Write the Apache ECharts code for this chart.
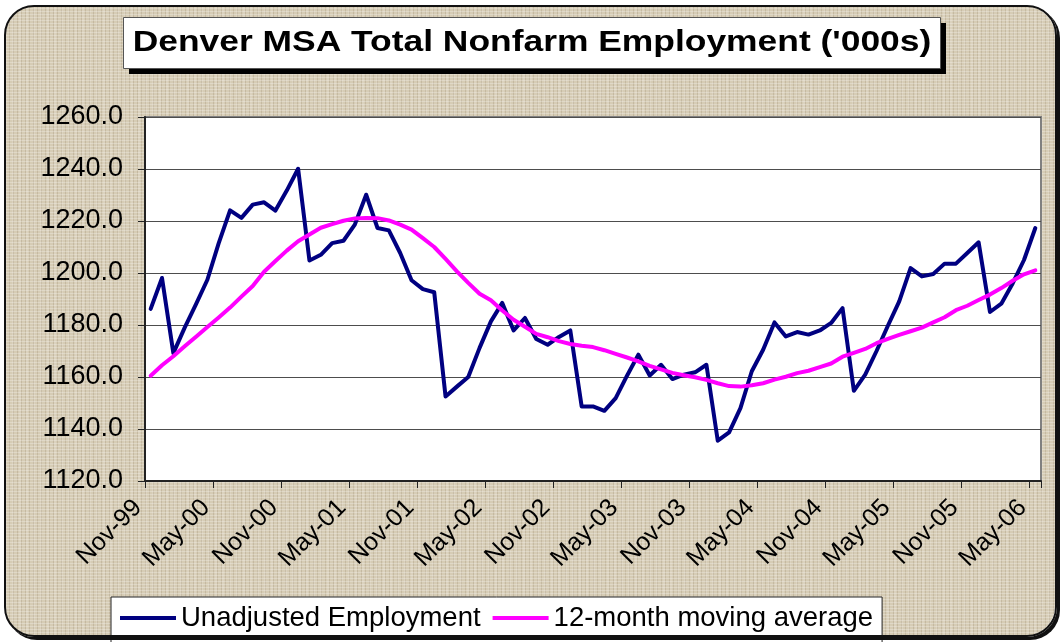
<!DOCTYPE html>
<html>
<head>
<meta charset="utf-8">
<script src="https://cdn.jsdelivr.net/npm/echarts@6/dist/echarts.min.js"></script>
<style>
  html, body { margin: 0; padding: 0; background: #fff; }
  #wrap { position: relative; width: 1061px; height: 642px; overflow: hidden; }
  /* linen-like backdrop behind the chart */
  #paper {
    position: absolute; left: 5px; top: 6px; width: 1050px; height: 630px;
    border-radius: 30px;
    background-color: #d6ccb5;
    background-image:
      repeating-linear-gradient(0deg, rgba(255,255,255,0.25) 0 1px, transparent 1px 3px),
      repeating-linear-gradient(90deg, rgba(120,100,70,0.18) 0 1px, transparent 1px 4px),
      repeating-linear-gradient(90deg, rgba(255,255,255,0.12) 0 2px, transparent 2px 7px);
  }
  #chart { position: absolute; left: 0; top: 0; width: 1061px; height: 642px; }
  /* frame drawn above the chart so it clips the legend box like the original */
  #frame {
    position: absolute; left: 4px; top: 5px; width: 1049px; height: 628px;
    border: 2px solid #111; border-radius: 30px;
    box-shadow: 3px 3px 0 #111;
    pointer-events: none;
  }
</style>
</head>
<body>
<div id="wrap">
  <div id="paper"></div>
  <div id="chart"></div>
  <div id="frame"></div>
</div>
<script>
// Monthly slots, Nov-99 .. May-06
const months = [
  'Nov-99', 'Dec-99',
  'Jan-00', 'Feb-00', 'Mar-00', 'Apr-00', 'May-00', 'Jun-00', 'Jul-00', 'Aug-00', 'Sep-00', 'Oct-00', 'Nov-00', 'Dec-00',
  'Jan-01', 'Feb-01', 'Mar-01', 'Apr-01', 'May-01', 'Jun-01', 'Jul-01', 'Aug-01', 'Sep-01', 'Oct-01', 'Nov-01', 'Dec-01',
  'Jan-02', 'Feb-02', 'Mar-02', 'Apr-02', 'May-02', 'Jun-02', 'Jul-02', 'Aug-02', 'Sep-02', 'Oct-02', 'Nov-02', 'Dec-02',
  'Jan-03', 'Feb-03', 'Mar-03', 'Apr-03', 'May-03', 'Jun-03', 'Jul-03', 'Aug-03', 'Sep-03', 'Oct-03', 'Nov-03', 'Dec-03',
  'Jan-04', 'Feb-04', 'Mar-04', 'Apr-04', 'May-04', 'Jun-04', 'Jul-04', 'Aug-04', 'Sep-04', 'Oct-04', 'Nov-04', 'Dec-04',
  'Jan-05', 'Feb-05', 'Mar-05', 'Apr-05', 'May-05', 'Jun-05', 'Jul-05', 'Aug-05', 'Sep-05', 'Oct-05', 'Nov-05', 'Dec-05',
  'Jan-06', 'Feb-06', 'Mar-06', 'Apr-06', 'May-06'
]

const unadjusted = [
  1186.2, 1198.1, 1169.2, 1179.0, 1188.0, 1197.4, 1211.5, 1224.1, 1221.2, 1226.3,
  1227.2, 1224.0, 1231.7, 1240.1, 1204.8, 1207.0, 1211.5, 1212.4, 1218.6, 1230.1,
  1217.3, 1216.4, 1207.7, 1197.2, 1193.8, 1192.6, 1152.5, 1156.3, 1160.0, 1171.2,
  1181.4, 1188.5, 1177.9, 1182.7, 1174.6, 1172.4, 1175.4, 1177.9, 1148.7, 1148.7,
  1147.0, 1151.9, 1160.5, 1168.6, 1160.6, 1164.7, 1159.2, 1160.9, 1161.8, 1164.7,
  1135.5, 1138.7, 1148.0, 1162.2, 1170.5, 1181.0, 1175.6, 1177.3, 1176.3, 1177.9,
  1180.8, 1186.5, 1154.7, 1160.9, 1170.0, 1179.7, 1189.1, 1201.9, 1198.7, 1199.6,
  1203.6, 1203.6, 1207.7, 1211.8, 1185.0, 1188.2, 1196.0, 1205.0, 1217.3
]

const movingAvg = [
  1160.5, 1164.5, 1168.0, 1171.8, 1175.5, 1179.2, 1182.9, 1186.7, 1190.9, 1195.0,
  1200.5, 1204.6, 1208.6, 1212.2, 1214.8, 1217.4, 1218.8, 1220.1, 1221.0, 1221.2,
  1221.1, 1220.2, 1218.6, 1216.7, 1213.4, 1210.0, 1205.4, 1200.6, 1196.2, 1192.0,
  1189.5, 1185.6, 1182.0, 1179.3, 1176.6, 1175.3, 1173.8, 1172.7, 1172.0, 1171.5,
  1170.3, 1168.9, 1167.5, 1166.0, 1164.3, 1162.9, 1161.6, 1160.7, 1159.9, 1158.9,
  1157.6, 1156.5, 1156.3, 1156.8, 1157.6, 1159.0, 1160.1, 1161.5, 1162.4, 1163.8,
  1165.2, 1167.8, 1169.3, 1170.8, 1173.0, 1174.7, 1176.2, 1177.6, 1179.0, 1181.0,
  1183.0, 1185.7, 1187.4, 1189.6, 1191.7, 1194.2, 1197.0, 1199.5, 1201.0
]

const yMin = 1120
const yMax = 1260
const yStep = 20

const titleText = "Denver MSA Total Nonfarm Employment ('000s)"
const seriesNames = ['Unadjusted Employment', '12-month moving average']

const font = 'Arial, "Liberation Sans", sans-serif'

const chart = echarts.init(document.getElementById('chart'), null, { renderer: 'canvas' })

chart.setOption({
  backgroundColor: 'transparent',
  animation: false,
  graphic: [
    // title box with a hard black drop shadow
    { type: 'rect', left: 129, top: 23, shape: { width: 817, height: 51 }, style: { fill: '#000' }, silent: true },
    { type: 'rect', left: 123, top: 17, shape: { width: 817, height: 51 }, style: { fill: '#fff', stroke: '#555', lineWidth: 1 }, silent: true },
    {
      type: 'text', x: 532, y: 43, scaleX: 1.2, silent: true,
      style: {
        text: titleText, fill: '#000', font: 'bold 29.5px ' + font,
        textAlign: 'center', textVerticalAlign: 'middle'
      }
    }
  ],
  legend: {
    data: seriesNames,
    left: 111, top: 597,
    orient: 'horizontal',
    padding: [7, 9, 12, 9],
    itemGap: 12,
    icon: 'rect',
    itemWidth: 56, itemHeight: 4,
    backgroundColor: '#fff',
    borderColor: '#222', borderWidth: 1, borderRadius: 0,
    textStyle: { fontFamily: font, fontSize: 27.5, color: '#000' }
  },
  grid: {
    left: 145, top: 117, right: 20, bottom: 161,
    show: true, backgroundColor: '#fff',
    borderColor: '#808080', borderWidth: 2
  },
  xAxis: {
    type: 'category',
    data: months,
    boundaryGap: true,
    axisLine: { lineStyle: { color: '#222', width: 2 } },
    axisTick: { show: true, interval: 5, length: 7, lineStyle: { color: '#222', width: 1 } },
    axisLabel: {
      interval: 5, rotate: 45, margin: 10,
      padding: [0, 18, 0, 0],
      fontFamily: font, fontSize: 25, color: '#000'
    },
    splitLine: { show: false }
  },
  yAxis: {
    type: 'value',
    min: yMin, max: yMax, interval: yStep,
    axisLine: { show: true, lineStyle: { color: '#222', width: 2 } },
    axisTick: { show: true, length: 7, lineStyle: { color: '#222', width: 1 } },
    axisLabel: {
      margin: 22, fontFamily: font, fontSize: 27, color: '#000',
      formatter: function (v) { return v.toFixed(1) }
    },
    splitLine: { show: true, lineStyle: { color: '#4d4d4d', width: 1 } }
  },
  series: [
    {
      name: seriesNames[0],
      type: 'line',
      data: unadjusted,
      symbol: 'none',
      lineStyle: { color: '#000080', width: 4, join: 'round', cap: 'round' },
      itemStyle: { color: '#000080' }
    },
    {
      name: seriesNames[1],
      type: 'line',
      data: movingAvg,
      symbol: 'none',
      lineStyle: { color: '#ff00ff', width: 4, join: 'round', cap: 'round' },
      itemStyle: { color: '#ff00ff' }
    }
  ]
})
</script>
</body>
</html>
